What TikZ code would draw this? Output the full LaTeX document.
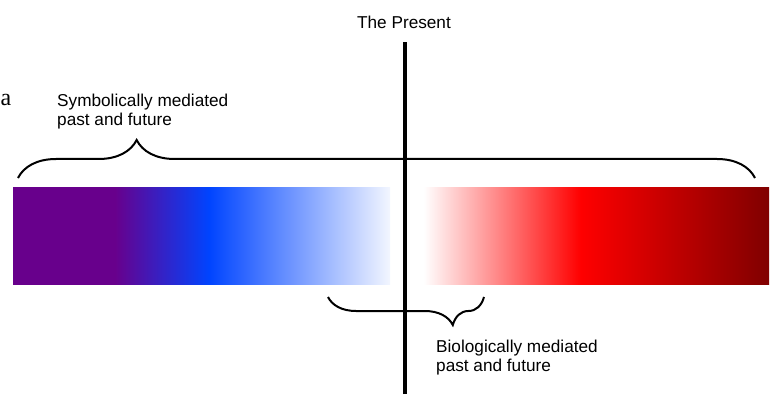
\documentclass[tikz,border=0pt]{standalone}
\usepackage{fontspec}
\setsansfont{Liberation Sans}
\newfontfamily\serifa{Liberation Serif}
\usepackage{tikz}
\usetikzlibrary{decorations.pathreplacing,positioning}

\definecolor{pastpurple}{RGB}{104,0,140}
\definecolor{pastblue}{RGB}{0,68,255}
\definecolor{futred}{RGB}{255,0,0}
\definecolor{futdark}{RGB}{128,0,0}

% Shadings: the 25bp--75bp band is mapped onto the bar
\pgfdeclarehorizontalshading{pastshade}{100bp}{
  color(0bp)=(pastpurple); color(25bp)=(pastpurple); color(38.5bp)=(pastpurple);
  color(51bp)=(pastblue); color(75bp)=(white!95!pastblue); color(100bp)=(white)}
\pgfdeclarehorizontalshading{futshade}{100bp}{
  color(0bp)=(white); color(25.5bp)=(white); color(48bp)=(futred);
  color(75bp)=(futdark); color(100bp)=(futdark)}

\begin{document}
\begin{tikzpicture}[x=1pt,y=1pt,
    label/.style={font=\sffamily\fontsize{17.2}{19}\selectfont, align=left, inner sep=0pt},
    bracestyle/.style={line width=2pt, decorate}]
  \useasboundingbox (0,0) rectangle (775,394);

  % Layout positions
  \def\barbot{110}   % lower edge of the bars
  \def\bartop{207}   % upper edge of the bars
  \def\xnow{405}     % the present

  % Bars
  \shade[shading=pastshade] (13,\barbot) rectangle (390,\bartop);
  \shade[shading=futshade] (420,\barbot) rectangle (769,\bartop);

  % The present
  \coordinate (nowbot) at (\xnow,0);
  \coordinate (nowtop) at (\xnow,352);
  \draw[line width=4pt] (nowbot) -- (nowtop);
  \node[font=\sffamily\fontsize{17.2}{19}\selectfont] (present) at (404,372) {The Present};

  % Brace above: symbolic span
  \coordinate (symL) at (18,216);
  \coordinate (symR) at (755,216);
  \draw[bracestyle, decoration={brace, amplitude=38pt, aspect=0.161}] (symL) -- (symR);
  \node[label, anchor=west] (symtext) at (57,282) {Symbolically mediated\\past and future};

  % Brace below: biological span
  \coordinate (bioL) at (328,97);
  \coordinate (bioR) at (484,97);
  \draw[bracestyle, decoration={brace, amplitude=28pt, aspect=0.8, mirror}] (bioL) -- (bioR);
  \node[label, anchor=west] (biotext) at (436,36) {Biologically mediated\\past and future};

  % Letter at the left edge
  \node[font=\serifa\fontsize{24}{24}\selectfont, inner sep=0pt, anchor=west] (tag) at (0.5,294) {a};
\end{tikzpicture}
\end{document}
